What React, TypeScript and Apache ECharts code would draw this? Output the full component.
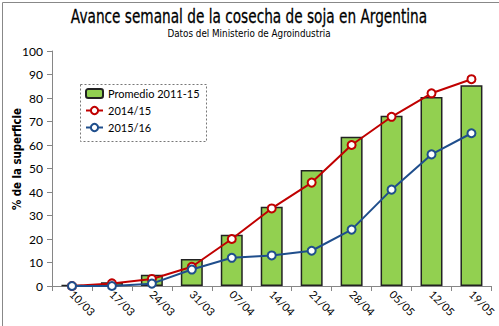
import React, { useEffect, useRef } from "react";
import * as echarts from "echarts";

const categories = ["10/03", "17/03", "24/03", "31/03", "07/04", "14/04", "21/04", "28/04", "05/05", "12/05", "19/05"];
const promedio = [0.4, 1.6, 4.8, 11.5, 21.8, 33.7, 49.4, 63.5, 72.5, 80.4, 85.4];
const camp1415 = [0, 1.1, 3, 8.2, 20, 33, 44, 60, 72, 82, 88];
const camp1516 = [0, 0, 1, 7, 12, 13, 15, 24, 41, 56, 65];
const yTicks = { min: 0, max: 100, interval: 10 };

const titleText = "Avance semanal de la cosecha de soja en Argentina";
const subtitleText = "Datos del Ministerio de Agroindustria";
const yName = "% de la superficie";

const sans = "'DejaVu Sans', sans-serif";
const body = "Lato, 'Open Sans', sans-serif";

export default function App() {
  const ref = useRef<HTMLDivElement>(null);
  useEffect(() => {
    document.body.style.margin = "0";
    const chart = echarts.init(ref.current!, null, { renderer: "svg" });
    chart.setOption({
      animation: false,
      backgroundColor: "#fff",
      graphic: [
        {
          type: "rect",
          left: 0,
          top: 0,
          shape: { width: 498, height: 325 },
          style: { fill: "none", stroke: "#888", lineWidth: 1 },
          silent: true,
        },
        {
          type: "text",
          x: 249,
          y: 7,
          scaleX: 0.72,
          style: {
            text: titleText,
            fontFamily: sans,
            fontSize: 19,
            fill: "#000",
            stroke: "#000",
            lineWidth: 0.3,
            textAlign: "center",
            textVerticalAlign: "top",
          },
        },
        {
          type: "text",
          x: 249,
          y: 28,
          scaleX: 0.8,
          style: {
            text: subtitleText,
            fontFamily: sans,
            fontSize: 11,
            fill: "#000",
            textAlign: "center",
            textVerticalAlign: "top",
          },
        },
        {
          type: "text",
          x: 17,
          y: 159,
          rotation: Math.PI / 2,
          scaleX: 0.85,
          style: {
            text: yName,
            fontFamily: sans,
            fontSize: 12,
            fontWeight: "bold",
            fill: "#000",
            textAlign: "center",
            textVerticalAlign: "middle",
          },
        },
        {
          type: "rect",
          left: 80,
          top: 84,
          shape: { width: 126, height: 57 },
          style: { fill: "#fff", stroke: "#777", lineWidth: 1, lineDash: [2, 2] },
          z: 5,
        },
      ],
      legend: {
        orient: "vertical",
        left: 85,
        top: 88,
        padding: 0,
        itemGap: 6,
        itemWidth: 17,
        itemHeight: 9,
        z: 10,
        textStyle: { fontFamily: body, fontSize: 11, color: "#000" },
        data: ["Promedio 2011-15", "2014/15", "2015/16"],
      },
      grid: { left: 52, right: 7, top: 51, bottom: 40, containLabel: false },
      xAxis: {
        type: "category",
        data: categories,
        boundaryGap: true,
        axisLine: { lineStyle: { color: "#868686", width: 1 } },
        axisTick: { show: true, length: 5, lineStyle: { color: "#868686" } },
        axisLabel: { rotate: -45, fontFamily: body, fontSize: 11, color: "#000", margin: 6 },
      },
      yAxis: {
        type: "value",
        ...yTicks,
        splitLine: { show: false },
        axisLine: { show: true, lineStyle: { color: "#868686" } },
        axisTick: { show: true, length: 5, lineStyle: { color: "#868686" } },
        axisLabel: { fontFamily: body, fontSize: 12, color: "#000", margin: 9 },
      },
      series: [
        {
          name: "Promedio 2011-15",
          type: "bar",
          data: promedio,
          barWidth: "55%",
          itemStyle: { color: "#92d050", borderColor: "#222", borderWidth: 1.5 },
        },
        {
          name: "2014/15",
          type: "line",
          data: camp1415,
          symbol: "circle",
          symbolSize: 8,
          lineStyle: { color: "#c00000", width: 2 },
          itemStyle: { color: "#fff", borderColor: "#c00000", borderWidth: 2 },
          z: 3,
        },
        {
          name: "2015/16",
          type: "line",
          data: camp1516,
          symbol: "circle",
          symbolSize: 8,
          lineStyle: { color: "#1f4e8c", width: 2 },
          itemStyle: { color: "#fff", borderColor: "#1f4e8c", borderWidth: 2 },
          z: 4,
        },
      ],
    });
    return () => chart.dispose();
  }, []);
  return <div ref={ref} style={{ width: 499, height: 326 }} />;
}
